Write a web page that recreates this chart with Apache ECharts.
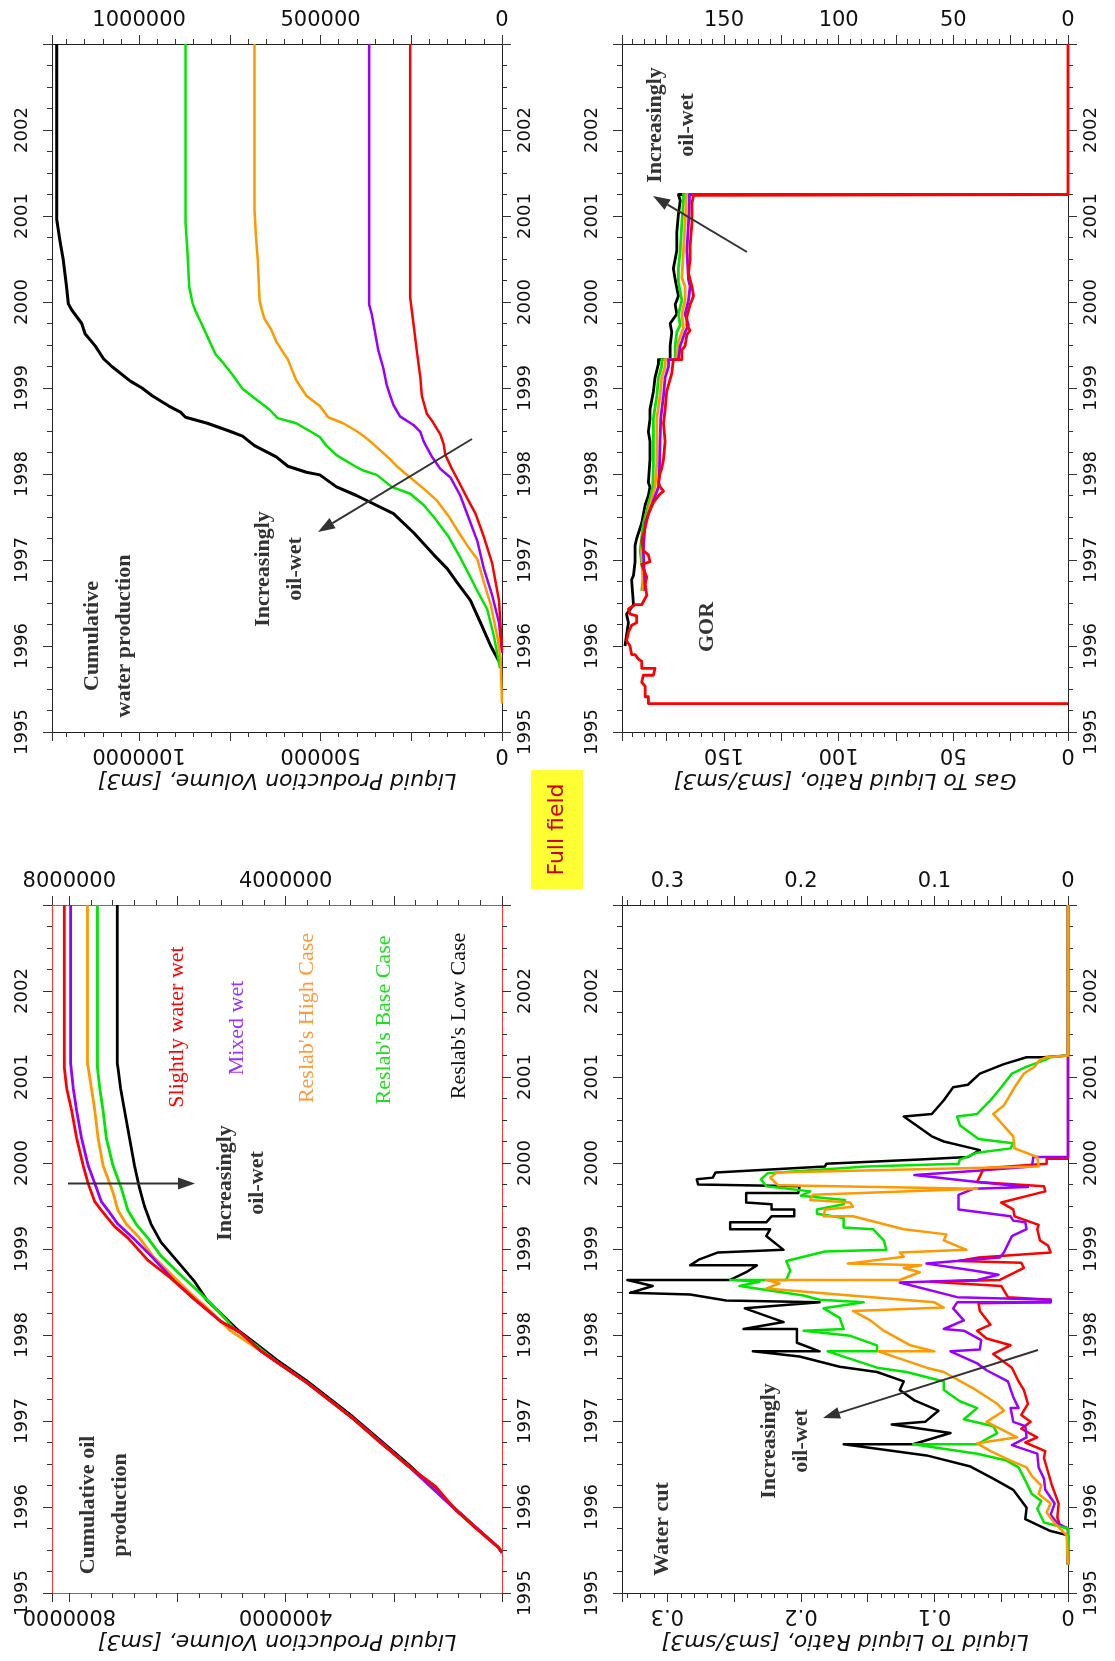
<!DOCTYPE html>
<html><head><meta charset="utf-8">
<script src="https://cdn.jsdelivr.net/npm/echarts@6.0.0/dist/echarts.min.js"></script>
<style>html,body{margin:0;padding:0;background:#fff}#c{width:1115px;height:1661px}</style>
</head><body><div id="c"></div>
<script>
// ---------------- DATA ([year, value]) ----------------
const seriesNames = ['Slightly water wet', 'Mixed wet', "Reslab's High Case", "Reslab's Base Case", "Reslab's Low Case"];

// Cumulative water production [sm3]
const waterBlack = [[1995.82,8000],[1996.00,31000],[1996.27,59000],[1996.53,87000],[1996.74,124000],[1996.90,151000],[1997.06,188000],[1997.32,244000],[1997.54,299000],[1997.75,401000],[1997.85,456000],[1997.99,502000],[1998.02,539000],[1998.09,590000],[1998.20,622000],[1998.33,682000],[1998.44,715000],[1998.50,752000],[1998.59,812000],[1998.66,872000],[1998.72,886000],[1998.79,918000],[1998.91,964000],[1999.00,992000],[1999.08,1024000],[1999.25,1075000],[1999.34,1098000],[1999.49,1121000],[1999.63,1149000],[1999.75,1158000],[1999.91,1186000],[1999.98,1195000],[2000.18,1200000],[2000.49,1209000],[2000.71,1218000],[2000.96,1227000],[2003,1227000]];
const waterGreen = [[1995.74,5500],[1996.11,22000],[1996.43,41000],[1996.64,68000],[1996.80,87000],[1997.06,119000],[1997.27,147000],[1997.48,184000],[1997.64,216000],[1997.77,253000],[1997.85,304000],[1997.99,345000],[1998.04,382000],[1998.09,405000],[1998.22,456000],[1998.33,484000],[1998.43,502000],[1998.50,530000],[1998.59,567000],[1998.65,618000],[1998.75,641000],[1998.87,678000],[1998.99,715000],[1999.15,742000],[1999.28,766000],[1999.39,789000],[1999.60,812000],[1999.73,826000],[1999.89,844000],[1999.99,853000],[2000.18,862000],[2000.60,867000],[2000.92,872000],[2003,872000]];
const waterOrange = [[1995.33,0],[1995.85,3700],[1996.11,13000],[1996.48,31000],[1996.74,50000],[1997.01,68000],[1997.17,96000],[1997.32,119000],[1997.51,147000],[1997.69,179000],[1997.83,216000],[1997.96,253000],[1998.09,290000],[1998.17,308000],[1998.35,355000],[1998.43,378000],[1998.50,401000],[1998.59,438000],[1998.66,479000],[1998.79,502000],[1998.91,539000],[1999.09,567000],[1999.33,590000],[1999.54,622000],[1999.68,636000],[1999.81,655000],[1999.94,664000],[2000.02,668000],[2000.49,673000],[2000.76,678000],[2001.08,682000],[2003,682000]];
const waterPurple = [[1995.92,0],[1996.27,8300],[1996.59,27000],[1996.90,50000],[1997.22,68000],[1997.48,91000],[1997.75,115000],[1997.96,142000],[1998.06,170000],[1998.20,193000],[1998.38,216000],[1998.49,225000],[1998.57,244000],[1998.67,281000],[1998.80,299000],[1998.91,308000],[1999.04,318000],[1999.23,327000],[1999.44,341000],[1999.65,350000],[1999.86,359000],[1999.97,366000],[2003,366000]];
const waterRed = [[1995.95,0],[1996.53,8300],[1996.96,27000],[1997.27,50000],[1997.54,73000],[1997.72,96000],[1997.91,119000],[1998.06,138000],[1998.22,156000],[1998.35,161000],[1998.46,170000],[1998.62,193000],[1998.70,207000],[1998.91,221000],[1999.12,225000],[1999.44,235000],[1999.75,244000],[2000.05,253000],[2003,253000]];

// Gas to liquid ratio [sm3/sm3]
const gorBlack = [[1996.00,193.2],[1996.27,191.7],[1996.37,192.5],[1996.48,189.5],[1996.77,190.3],[1996.82,189.5],[1996.98,188.8],[1997.17,188.8],[1997.25,188.1],[1997.43,185.9],[1997.64,184.4],[1997.75,183.0],[1997.85,182.3],[1997.90,183.0],[1998.17,182.3],[1998.38,182.3],[1998.49,183.0],[1998.64,182.3],[1998.75,182.3],[1998.96,180.8],[1999.12,180.1],[1999.28,178.6],[1999.33,178.6],[1999.33,173.5],[1999.49,173.5],[1999.65,172.8],[1999.75,173.5],[1999.86,170.6],[1999.97,171.3],[2000.07,169.9],[2000.26,171.3],[2000.39,172.1],[2000.60,170.6],[2000.81,170.6],[2001.02,169.9],[2001.18,169.1],[2001.25,169.9],[2001.25,0]];
const gorGreen = [[1996.64,185.9],[1996.80,185.2],[1997.11,186.6],[1997.43,185.2],[1997.64,183.0],[1997.85,181.1],[1998.12,180.8],[1998.38,180.8],[1998.65,180.8],[1998.91,179.3],[1999.12,178.6],[1999.25,177.2],[1999.33,177.2],[1999.33,171.3],[1999.49,171.3],[1999.65,170.6],[1999.73,169.1],[1999.86,169.9],[2000.02,168.4],[2000.23,169.9],[2000.39,169.9],[2000.60,169.1],[2000.92,168.4],[2001.18,167.7],[2001.25,167.7],[2001.25,0]];
const gorOrange = [[1996.64,185.2],[1997.11,185.9],[1997.43,184.4],[1997.64,182.3],[1997.85,180.1],[1998.12,179.3],[1998.38,179.3],[1998.65,179.3],[1998.91,177.9],[1999.12,177.2],[1999.25,175.7],[1999.33,175.7],[1999.33,170.6],[1999.54,169.9],[1999.70,167.7],[1999.86,168.4],[2000.02,167.0],[2000.18,167.0],[2000.28,168.4],[2000.60,167.7],[2000.92,167.0],[2001.18,166.5],[2001.25,166.5],[2001.25,0]];
const gorPurple = [[1996.64,184.4],[1997.11,185.2],[1997.43,184.4],[1997.64,181.5],[1997.85,178.6],[1998.01,178.2],[1998.38,177.9],[1998.65,177.6],[1998.91,176.4],[1999.12,175.7],[1999.25,174.2],[1999.33,174.2],[1999.33,169.9],[1999.49,169.1],[1999.65,167.0],[1999.73,165.5],[1999.86,167.0],[2000.02,165.5],[2000.18,164.8],[2000.26,165.5],[2000.60,166.2],[2000.92,165.5],[2001.18,165.1],[2001.25,165.1],[2001.25,0]];
const gorRed = [[1995.33,0],[1995.33,183.0],[1995.41,183.0],[1995.41,184.4],[1995.53,184.4],[1995.58,185.9],[1995.66,185.2],[1995.66,180.8],[1995.74,180.1],[1995.74,185.9],[1995.82,185.9],[1995.85,187.4],[1995.90,188.8],[1995.90,190.3],[1996.00,191.0],[1996.06,192.5],[1996.16,191.7],[1996.24,190.3],[1996.27,188.1],[1996.35,188.1],[1996.37,191.0],[1996.43,191.7],[1996.48,188.8],[1996.48,185.9],[1996.59,183.7],[1996.72,184.4],[1996.80,183.7],[1996.90,185.2],[1996.95,185.9],[1996.98,182.3],[1997.06,183.0],[1997.11,185.2],[1997.22,185.9],[1997.38,184.4],[1997.54,183.0],[1997.67,180.8],[1997.77,177.9],[1997.80,176.4],[1997.85,177.9],[1997.90,178.6],[1998.01,177.9],[1998.06,177.2],[1998.17,176.4],[1998.38,175.7],[1998.59,176.4],[1998.75,175.7],[1998.96,175.0],[1999.17,172.8],[1999.33,172.1],[1999.33,168.4],[1999.44,168.4],[1999.49,167.0],[1999.62,166.2],[1999.67,164.8],[1999.73,166.2],[1999.83,166.2],[1999.97,164.8],[2000.07,163.3],[2000.18,164.0],[2000.26,164.8],[2000.34,165.5],[2000.49,164.8],[2000.65,164.8],[2000.92,164.0],[2001.15,164.0],[2001.24,163.3],[2001.25,0],[2003,0]];

// Cumulative oil production [sm3]
const oilBlack = [[1995.47,0],[1995.53,67000],[1995.98,862000],[1996.49,1719000],[1997.05,2758000],[1997.47,3615000],[1997.71,4165000],[1997.92,4593000],[1998.05,4868000],[1998.40,5450000],[1998.63,5694000],[1998.90,6061000],[1999.08,6306000],[1999.29,6489000],[1999.50,6612000],[1999.71,6703000],[1999.97,6795000],[2000.29,6887000],[2000.61,6979000],[2000.87,7052000],[2001.11,7101000],[2001.16,7113000],[2003,7113000]];
const oilGreen = [[1995.47,0],[1995.53,67000],[1995.97,862000],[1996.47,1719000],[1997.03,2758000],[1997.45,3615000],[1997.66,4104000],[1997.87,4532000],[1998.08,4960000],[1998.29,5266000],[1998.50,5602000],[1998.66,5878000],[1998.92,6306000],[1999.13,6550000],[1999.29,6765000],[1999.45,6917000],[1999.71,7040000],[1999.97,7193000],[2000.29,7315000],[2000.61,7376000],[2000.87,7437000],[2001.11,7480000],[2003,7480000]];
const oilOrange = [[1995.47,0],[1995.53,67000],[1995.97,862000],[1996.47,1719000],[1997.03,2758000],[1997.45,3615000],[1997.82,4471000],[1998.05,5021000],[1998.24,5327000],[1998.50,5786000],[1998.71,6122000],[1998.92,6459000],[1999.13,6703000],[1999.29,6948000],[1999.45,7101000],[1999.66,7193000],[1999.97,7376000],[2000.29,7468000],[2000.61,7529000],[2000.87,7590000],[2001.11,7651000],[2001.15,7664000],[2003,7664000]];
const oilPurple = [[1995.47,0],[1995.53,67000],[1995.97,862000],[1996.47,1719000],[1997.03,2758000],[1997.45,3615000],[1997.82,4471000],[1998.03,4838000],[1998.16,5205000],[1998.42,5694000],[1998.63,6061000],[1998.92,6489000],[1999.13,6826000],[1999.29,7101000],[1999.45,7284000],[1999.55,7407000],[1999.71,7498000],[1999.97,7651000],[2000.29,7774000],[2000.61,7865000],[2000.87,7927000],[2001.16,7976000],[2003,7976000]];
const oilRed = [[1995.47,0],[1995.53,67000],[1995.76,495000],[1995.97,862000],[1996.24,1229000],[1996.47,1719000],[1996.76,2269000],[1997.03,2758000],[1997.21,3125000],[1997.45,3615000],[1997.66,4104000],[1997.82,4471000],[1998.03,4838000],[1998.16,5205000],[1998.42,5694000],[1998.66,6122000],[1998.87,6550000],[1999.13,6917000],[1999.26,7162000],[1999.45,7407000],[1999.55,7529000],[1999.76,7651000],[1999.97,7743000],[2000.29,7865000],[2000.61,7957000],[2000.87,8049000],[2001.11,8092000],[2003,8092000]];

// Water cut (liquid to liquid ratio) [sm3/sm3]
const wcutBlack = [[1995.33,0],[1995.67,0],[1995.72,0.013],[1995.86,0.032],[1995.99,0.031],[1996.20,0.041],[1996.33,0.056],[1996.47,0.073],[1996.60,0.106],[1996.73,0.168],[1996.73,0.116],[1996.86,0.088],[1996.96,0.132],[1996.99,0.107],[1997.12,0.097],[1997.24,0.115],[1997.36,0.126],[1997.46,0.123],[1997.57,0.143],[1997.63,0.171],[1997.75,0.201],[1997.81,0.236],[1997.81,0.186],[1997.91,0.203],[1998.07,0.203],[1998.07,0.243],[1998.15,0.213],[1998.31,0.242],[1998.38,0.186],[1998.40,0.256],[1998.47,0.283],[1998.49,0.328],[1998.57,0.311],[1998.64,0.330],[1998.64,0.253],[1998.73,0.241],[1998.81,0.233],[1998.81,0.283],[1998.88,0.276],[1998.96,0.262],[1998.99,0.213],[1999.15,0.226],[1999.23,0.223],[1999.23,0.253],[1999.31,0.253],[1999.31,0.226],[1999.38,0.222],[1999.38,0.205],[1999.46,0.205],[1999.46,0.222],[1999.52,0.222],[1999.54,0.241],[1999.65,0.241],[1999.65,0.202],[1999.73,0.201],[1999.75,0.277],[1999.81,0.278],[1999.83,0.266],[1999.89,0.264],[1999.96,0.182],[1999.99,0.181],[2000.04,0.111],[2000.07,0.075],[2000.15,0.066],[2000.25,0.093],[2000.31,0.102],[2000.54,0.123],[2000.57,0.102],[2000.73,0.093],[2000.88,0.086],[2000.91,0.075],[2001.04,0.066],[2001.15,0.048],[2001.23,0.031],[2001.23,0.018],[2001.25,0],[2003,0]];
const wcutGreen = [[1995.33,0],[1995.75,0],[1995.82,0.018],[1995.98,0.023],[1996.07,0.020],[1996.15,0.027],[1996.31,0.032],[1996.46,0.037],[1996.54,0.046],[1996.62,0.068],[1996.73,0.116],[1996.73,0.068],[1996.86,0.053],[1996.94,0.056],[1997.02,0.078],[1997.15,0.068],[1997.23,0.081],[1997.36,0.093],[1997.46,0.093],[1997.57,0.121],[1997.62,0.143],[1997.81,0.180],[1997.81,0.143],[1997.88,0.143],[1997.99,0.163],[1998.05,0.198],[1998.07,0.168],[1998.20,0.171],[1998.31,0.183],[1998.38,0.153],[1998.41,0.186],[1998.46,0.198],[1998.57,0.246],[1998.62,0.231],[1998.64,0.253],[1998.64,0.211],[1998.75,0.208],[1998.86,0.211],[1998.97,0.182],[1998.99,0.136],[1999.10,0.138],[1999.23,0.146],[1999.25,0.168],[1999.36,0.168],[1999.41,0.188],[1999.46,0.188],[1999.52,0.168],[1999.57,0.167],[1999.62,0.200],[1999.67,0.193],[1999.73,0.226],[1999.81,0.230],[1999.88,0.225],[1999.96,0.151],[1999.99,0.082],[2000.04,0.081],[2000.12,0.068],[2000.17,0.043],[2000.23,0.041],[2000.28,0.067],[2000.44,0.081],[2000.54,0.083],[2000.57,0.068],[2000.73,0.058],[2000.88,0.050],[2001.04,0.042],[2001.12,0.031],[2001.20,0.017],[2001.23,0.013],[2001.25,0],[2003,0]];
const wcutOrange = [[1995.33,0],[1995.67,0.001],[1995.83,0.011],[1995.94,0.016],[1996.04,0.013],[1996.15,0.022],[1996.25,0.020],[1996.36,0.027],[1996.46,0.031],[1996.54,0.043],[1996.65,0.058],[1996.74,0.068],[1996.81,0.038],[1996.99,0.061],[1997.12,0.048],[1997.20,0.053],[1997.38,0.071],[1997.57,0.093],[1997.62,0.106],[1997.81,0.142],[1997.81,0.100],[1997.88,0.118],[1998.05,0.138],[1998.17,0.148],[1998.28,0.161],[1998.32,0.093],[1998.38,0.100],[1998.46,0.163],[1998.54,0.226],[1998.60,0.216],[1998.64,0.226],[1998.64,0.126],[1998.73,0.111],[1998.78,0.123],[1998.81,0.110],[1998.83,0.165],[1998.91,0.123],[1998.96,0.126],[1998.99,0.076],[1999.10,0.093],[1999.17,0.091],[1999.23,0.123],[1999.38,0.161],[1999.38,0.183],[1999.46,0.182],[1999.49,0.161],[1999.54,0.163],[1999.57,0.193],[1999.63,0.191],[1999.70,0.068],[1999.74,0.217],[1999.83,0.223],[1999.89,0.218],[1999.96,0.022],[2000.07,0.023],[2000.17,0.040],[2000.31,0.041],[2000.57,0.056],[2000.67,0.048],[2000.88,0.040],[2001.04,0.033],[2001.12,0.025],[2001.20,0.021],[2001.23,0.016],[2001.25,0],[2003,0]];
const wcutPurple = [[1995.33,0],[1995.75,0],[1995.81,0.008],[1995.91,0.013],[1996.04,0.010],[1996.20,0.017],[1996.33,0.018],[1996.46,0.022],[1996.62,0.023],[1996.72,0.042],[1996.81,0.031],[1996.94,0.032],[1996.99,0.041],[1997.15,0.043],[1997.15,0.037],[1997.28,0.041],[1997.46,0.045],[1997.59,0.061],[1997.67,0.068],[1997.81,0.088],[1997.83,0.066],[1997.94,0.065],[1998.05,0.078],[1998.07,0.093],[1998.17,0.078],[1998.31,0.086],[1998.38,0.083],[1998.38,0.013],[1998.41,0.013],[1998.44,0.083],[1998.61,0.126],[1998.64,0.068],[1998.70,0.052],[1998.75,0.071],[1998.83,0.106],[1998.90,0.051],[1998.96,0.048],[1999.15,0.042],[1999.23,0.031],[1999.31,0.032],[1999.33,0.041],[1999.38,0.043],[1999.46,0.082],[1999.63,0.082],[1999.70,0.071],[1999.72,0.030],[1999.78,0.068],[1999.86,0.115],[1999.91,0.068],[1999.96,0.027],[2000.07,0.026],[2000.07,0],[2003,0]];
const wcutRed = [[1995.33,0],[1995.75,0],[1995.78,0.006],[1995.88,0.008],[1996.04,0.007],[1996.25,0.012],[1996.41,0.015],[1996.57,0.018],[1996.65,0.017],[1996.75,0.032],[1996.81,0.023],[1996.91,0.035],[1996.99,0.028],[1997.07,0.035],[1997.20,0.030],[1997.36,0.033],[1997.46,0.037],[1997.62,0.042],[1997.78,0.056],[1997.88,0.043],[1997.96,0.061],[1998.05,0.068],[1998.12,0.058],[1998.28,0.066],[1998.37,0.067],[1998.38,0.013],[1998.41,0.013],[1998.44,0.045],[1998.57,0.050],[1998.62,0.103],[1998.64,0.051],[1998.78,0.033],[1998.84,0.035],[1998.86,0.082],[1998.90,0.067],[1998.96,0.013],[1999.04,0.015],[1999.10,0.021],[1999.23,0.023],[1999.28,0.022],[1999.38,0.040],[1999.46,0.041],[1999.54,0.050],[1999.67,0.017],[1999.73,0.018],[1999.78,0.068],[1999.94,0.063],[1999.99,0.016],[2000.05,0.016],[2000.05,0],[2003,0]];

// year axis range
const yearMin = 1995, yearMax = 2003;

// ---------------- CHART ----------------
const COL = {red:'#ff0000', purple:'#9900ff', orange:'#ff9900', green:'#00e600', black:'#000000'};
const SANS = 'DejaVu Sans';
const SERIF = 'Liberation Serif';

const panels = [
  {grid:{left:52, top:44, width:450, height:688}, max:1240000, major:250000, minor:50000, step:500000, hideZero:false,
   name:'Liquid Production Volume, [sm3]', frame:'#222', lm:21, rm:14,
   series:[[waterBlack,'black',3,4],[waterGreen,'green',2.5,3],[waterPurple,'purple',2.5,1],[waterRed,'red',2.5,0],[waterOrange,'orange',2.5,2]]},
  {grid:{left:622, top:44, width:446, height:688}, max:194.5, major:25, minor:5, step:50, hideZero:false,
   name:'Gas To Liquid Ratio, [sm3/sm3]', frame:'#222', lm:21, rm:14,
   series:[[gorBlack,'black',2.8,4],[gorGreen,'green',2.8,3],[gorOrange,'orange',2.8,2],[gorPurple,'purple',2.8,1],[gorRed,'red',2.8,0]]},
  {grid:{left:52, top:905, width:450, height:688}, max:8320000, major:2000000, minor:400000, step:4000000, hideZero:true,
   name:'Liquid Production Volume, [sm3]', frame:'#ff3333', lm:21, rm:14,
   series:[[oilBlack,'black',2.8,4],[oilGreen,'green',2.8,3],[oilOrange,'orange',2.8,2],[oilPurple,'purple',2.8,1],[oilRed,'red',2.8,0]]},
  {grid:{left:622, top:905, width:446, height:688}, max:0.334, major:0.05, minor:0.01, step:0.1, hideZero:false,
   name:'Liquid To Liquid Ratio, [sm3/sm3]', frame:'#222', lm:21, rm:14,
   series:[[wcutBlack,'black',2.5,4],[wcutRed,'red',2.5,0],[wcutPurple,'purple',2.5,1],[wcutGreen,'green',2.5,3],[wcutOrange,'orange',2.5,2]]}
];

const grids = [], xAxes = [], yAxes = [], series = [];
const tickColor = '#333';
const labelFmt = (p) => (v) => {
  const r = v / p.step;
  if (Math.abs(r - Math.round(r)) > 1e-6) return '';
  if (p.hideZero && Math.abs(v) < 1e-9) return '';
  return String(Number(v.toFixed(4)));
};
panels.forEach((p, gi) => {
  grids.push(Object.assign({containLabel:false}, p.grid));
  const base = {gridIndex:gi, type:'value', inverse:true, min:0, max:p.max, splitLine:{show:false}, minorTick:{show:false}};
  const mainIdx = xAxes.length;
  xAxes.push(Object.assign({}, base, {position:'bottom', interval:p.major,
    axisLine:{show:true, onZero:false, lineStyle:{color:p.frame, width:1}},
    axisTick:{show:true, length:9, lineStyle:{color:tickColor}},
    axisLabel:{show:true, rotate:180, margin:12, fontSize:21, fontFamily:SANS, color:'#111', formatter:labelFmt(p)},
    name:p.name, nameLocation:'middle', nameGap:37, nameRotate:180,
    nameTextStyle:{fontStyle:'italic', fontSize:22, fontFamily:SANS, color:'#111'}}));
  xAxes.push(Object.assign({}, base, {position:'top', interval:p.major,
    axisLine:{show:true, onZero:false, lineStyle:{color:p.frame, width:1}},
    axisTick:{show:true, length:9, lineStyle:{color:tickColor}},
    axisLabel:{show:true, margin:13, fontSize:21, fontFamily:SANS, color:'#111', formatter:labelFmt(p)}}));
  ['bottom','top'].forEach(pos => xAxes.push(Object.assign({}, base, {position:pos, interval:p.minor,
    axisLine:{show:false, onZero:false}, axisTick:{show:true, length:5, lineStyle:{color:tickColor}}, axisLabel:{show:false}})));
  const yIdx = yAxes.length;
  [['left',p.lm],['right',p.rm]].forEach(([pos, m]) => yAxes.push({gridIndex:gi, type:'value', position:pos, min:yearMin, max:yearMax, interval:1,
    axisLine:{show:true, onZero:false, lineStyle:{color:p.frame, width:1}},
    axisTick:{show:true, length:9, lineStyle:{color:tickColor}},
    minorTick:{show:true, splitNumber:4, length:5, lineStyle:{color:tickColor}},
    splitLine:{show:false},
    axisLabel:{show:true, rotate:90, margin:m, fontSize:18, fontFamily:SANS, color:'#111',
      formatter:(v) => (v >= yearMax ? '' : String(v))}}));
  p.series.forEach(([arr, col, w, ni]) => series.push({
    type:'line', name:seriesNames[ni], xAxisIndex:mainIdx, yAxisIndex:yIdx,
    data:arr.map(d => [d[1], d[0]]), showSymbol:false, symbol:'none', smooth:false, animation:false,
    lineStyle:{color:COL[col], width:w, join:'round'}, z:3
  }));
});

// ---------------- ANNOTATIONS ----------------
function txt(t, x, y, font, fill) {
  return {type:'text', x:x, y:y, rotation:Math.PI/2, z:100,
    style:{text:t, font:font, fill:fill, align:'center', verticalAlign:'middle', textAlign:'center', textVerticalAlign:'middle', lineHeight:32}};
}
function arrow(x1, y1, x2, y2) {
  const a = Math.atan2(y2 - y1, x2 - x1), L = 17, W = 6;
  const bx = x2 - L * Math.cos(a), by = y2 - L * Math.sin(a);
  const px = -Math.sin(a) * W, py = Math.cos(a) * W;
  return [
    {type:'line', z:100, shape:{x1:x1, y1:y1, x2:bx, y2:by}, style:{stroke:'#333', lineWidth:2}},
    {type:'polygon', z:100, shape:{points:[[x2, y2], [bx + px, by + py], [bx - px, by - py]]}, style:{fill:'#333'}}
  ];
}
const B = 'bold 22px "' + SERIF + '"', R = '22px "' + SERIF + '"';
const graphics = [
  {type:'rect', z:100, shape:{x:531, y:770, width:52, height:119}, style:{fill:'#ffff33'}},
  txt('Full field', 557, 829.5, '22px "' + SANS + '"', '#cc0000'),
  txt('Cumulative\nwater production', 108.5, 636, B, '#333'),
  txt('Increasingly\noil-wet', 279, 569, B, '#333'),
  txt('Increasingly\noil-wet', 671, 125, B, '#333'),
  txt('GOR', 707, 627, B, '#333'),
  txt('Cumulative oil\nproduction', 104, 1505, B, '#333'),
  txt('Increasingly\noil-wet', 241, 1183, B, '#333'),
  txt('Water cut', 662, 1529, B, '#333'),
  txt('Increasingly\noil-wet', 785, 1441, B, '#333'),
  txt(seriesNames[0], 177, 1027, R, '#ff0000'),
  txt(seriesNames[1], 237, 1028, R, '#9933ff'),
  txt(seriesNames[2], 307, 1018, R, '#ff9a3c'),
  txt(seriesNames[3], 384, 1020, R, '#22dd22'),
  txt(seriesNames[4], 459, 1016, R, '#111'),
  ...arrow(472, 439, 318, 532),
  ...arrow(747, 252, 653, 196),
  ...arrow(68, 1183.5, 195, 1183.5),
  ...arrow(1038, 1350, 823, 1418)
];

const chart = echarts.init(document.getElementById('c'), null, {renderer:'canvas'});
chart.setOption({
  animation:false, backgroundColor:'#ffffff',
  grid:grids, xAxis:xAxes, yAxis:yAxes, series:series, graphic:graphics
});
</script></body></html>
